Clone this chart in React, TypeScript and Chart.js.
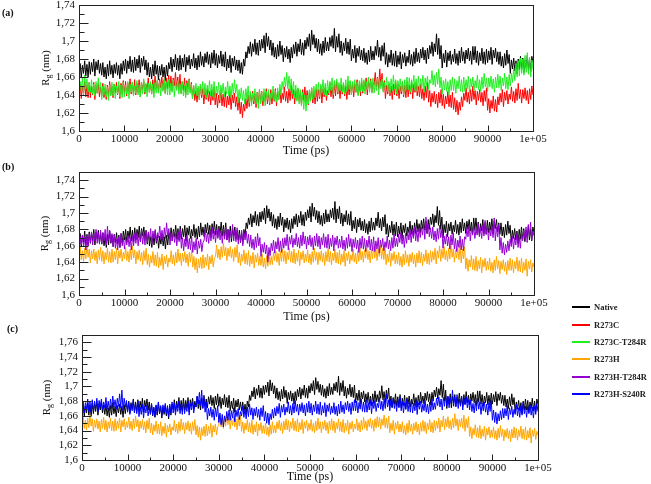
import React, { useEffect, useRef } from 'react';
import { Chart, registerables } from 'chart.js';

Chart.register(...registerables);

// ---------------- DATA ----------------
const SAMPLE_STEP_PS = 250; // one reading every 250 ps, 0 .. 100000 ps (401 readings)
const X_TICK_VALUES = [0, 10000, 20000, 30000, 40000, 50000, 60000, 70000, 80000, 90000, 100000];
const PANEL_LABELS = ['(a)', '(b)', '(c)'];
const SERIES_NAMES = ['Native', 'R273C', 'R273C-T284R', 'R273H', 'R273H-T284R', 'R273H-S240R'];
const SERIES_COLORS = ['#000000', '#ff0000', '#22ee22', '#ffa500', '#9400d3', '#0000ff'];

const NATIVE = [
  1.662, 1.675, 1.659, 1.673, 1.664, 1.678, 1.661, 1.674, 1.660, 1.677,
  1.663, 1.676, 1.666, 1.680, 1.661, 1.677, 1.668, 1.679, 1.664, 1.675,
  1.662, 1.676, 1.660, 1.671, 1.658, 1.674, 1.661, 1.678, 1.663, 1.673,
  1.659, 1.674, 1.664, 1.676, 1.662, 1.673, 1.658, 1.675, 1.663, 1.678,
  1.667, 1.680, 1.664, 1.678, 1.669, 1.683, 1.666, 1.679, 1.665, 1.682,
  1.667, 1.680, 1.670, 1.684, 1.665, 1.681, 1.672, 1.683, 1.668, 1.679,
  1.662, 1.676, 1.660, 1.671, 1.658, 1.674, 1.661, 1.678, 1.663, 1.673,
  1.657, 1.672, 1.662, 1.674, 1.660, 1.671, 1.656, 1.673, 1.661, 1.676,
  1.669, 1.682, 1.666, 1.680, 1.671, 1.685, 1.668, 1.681, 1.667, 1.684,
  1.668, 1.681, 1.671, 1.685, 1.666, 1.682, 1.673, 1.684, 1.669, 1.680,
  1.672, 1.686, 1.670, 1.681, 1.668, 1.684, 1.671, 1.688, 1.673, 1.683,
  1.671, 1.686, 1.676, 1.688, 1.674, 1.685, 1.670, 1.687, 1.675, 1.690,
  1.673, 1.686, 1.670, 1.684, 1.675, 1.689, 1.672, 1.685, 1.671, 1.688,
  1.667, 1.680, 1.670, 1.684, 1.665, 1.681, 1.672, 1.683, 1.668, 1.679,
  1.667, 1.679, 1.664, 1.676, 1.663, 1.680, 1.672, 1.688, 1.681, 1.694,
  1.686, 1.699, 1.683, 1.697, 1.688, 1.702, 1.685, 1.698, 1.684, 1.701,
  1.689, 1.702, 1.692, 1.706, 1.687, 1.709, 1.694, 1.705, 1.690, 1.701,
  1.684, 1.698, 1.682, 1.693, 1.680, 1.696, 1.683, 1.700, 1.685, 1.695,
  1.677, 1.692, 1.682, 1.694, 1.680, 1.691, 1.676, 1.693, 1.681, 1.696,
  1.686, 1.699, 1.683, 1.697, 1.688, 1.702, 1.685, 1.698, 1.684, 1.701,
  1.691, 1.704, 1.694, 1.708, 1.689, 1.712, 1.696, 1.707, 1.692, 1.703,
  1.688, 1.702, 1.686, 1.697, 1.684, 1.700, 1.687, 1.704, 1.689, 1.699,
  1.689, 1.704, 1.694, 1.706, 1.692, 1.714, 1.688, 1.705, 1.693, 1.708,
  1.687, 1.700, 1.684, 1.698, 1.689, 1.703, 1.686, 1.699, 1.685, 1.702,
  1.678, 1.691, 1.681, 1.695, 1.676, 1.692, 1.683, 1.694, 1.679, 1.690,
  1.678, 1.692, 1.676, 1.687, 1.674, 1.690, 1.677, 1.694, 1.679, 1.689,
  1.679, 1.694, 1.684, 1.701, 1.682, 1.693, 1.678, 1.695, 1.683, 1.698,
  1.674, 1.687, 1.671, 1.685, 1.676, 1.690, 1.673, 1.686, 1.672, 1.689,
  1.671, 1.684, 1.674, 1.688, 1.669, 1.685, 1.676, 1.687, 1.672, 1.683,
  1.676, 1.690, 1.674, 1.685, 1.672, 1.688, 1.675, 1.692, 1.677, 1.687,
  1.676, 1.691, 1.681, 1.693, 1.679, 1.690, 1.675, 1.692, 1.680, 1.695,
  1.686, 1.699, 1.683, 1.697, 1.688, 1.708, 1.685, 1.703, 1.680, 1.695,
  1.670, 1.686, 1.676, 1.690, 1.671, 1.687, 1.678, 1.689, 1.674, 1.685,
  1.677, 1.691, 1.675, 1.686, 1.673, 1.689, 1.676, 1.693, 1.678, 1.688,
  1.675, 1.690, 1.680, 1.692, 1.678, 1.689, 1.674, 1.694, 1.679, 1.694,
  1.676, 1.689, 1.673, 1.687, 1.678, 1.692, 1.675, 1.688, 1.674, 1.691,
  1.676, 1.689, 1.679, 1.693, 1.674, 1.690, 1.681, 1.692, 1.677, 1.688,
  1.674, 1.688, 1.672, 1.683, 1.670, 1.686, 1.673, 1.690, 1.675, 1.685,
  1.664, 1.679, 1.669, 1.681, 1.667, 1.678, 1.663, 1.680, 1.668, 1.683,
  1.668, 1.681, 1.665, 1.679, 1.670, 1.684, 1.667, 1.680, 1.666, 1.683,
  1.676,
];

const R273C = [
  1.639, 1.652, 1.636, 1.650, 1.641, 1.655, 1.638, 1.651, 1.637, 1.654,
  1.637, 1.650, 1.640, 1.654, 1.635, 1.651, 1.642, 1.653, 1.638, 1.649,
  1.639, 1.653, 1.637, 1.648, 1.635, 1.651, 1.638, 1.655, 1.640, 1.650,
  1.637, 1.652, 1.642, 1.654, 1.640, 1.651, 1.636, 1.653, 1.641, 1.656,
  1.642, 1.655, 1.639, 1.653, 1.644, 1.658, 1.641, 1.654, 1.640, 1.657,
  1.640, 1.653, 1.643, 1.657, 1.638, 1.654, 1.645, 1.656, 1.641, 1.652,
  1.645, 1.659, 1.643, 1.654, 1.641, 1.657, 1.644, 1.661, 1.646, 1.656,
  1.643, 1.658, 1.648, 1.660, 1.646, 1.657, 1.642, 1.659, 1.647, 1.662,
  1.648, 1.661, 1.645, 1.659, 1.650, 1.665, 1.647, 1.660, 1.646, 1.663,
  1.642, 1.655, 1.645, 1.659, 1.640, 1.656, 1.647, 1.658, 1.643, 1.654,
  1.636, 1.650, 1.634, 1.645, 1.632, 1.648, 1.635, 1.652, 1.637, 1.647,
  1.630, 1.645, 1.635, 1.647, 1.633, 1.644, 1.629, 1.646, 1.634, 1.649,
  1.629, 1.642, 1.626, 1.640, 1.631, 1.645, 1.628, 1.641, 1.627, 1.644,
  1.626, 1.639, 1.629, 1.643, 1.624, 1.640, 1.631, 1.642, 1.627, 1.638,
  1.623, 1.637, 1.619, 1.632, 1.615, 1.630, 1.622, 1.636, 1.625, 1.640,
  1.627, 1.642, 1.632, 1.644, 1.630, 1.641, 1.626, 1.643, 1.631, 1.646,
  1.631, 1.644, 1.628, 1.642, 1.633, 1.647, 1.630, 1.643, 1.629, 1.646,
  1.630, 1.643, 1.633, 1.647, 1.628, 1.644, 1.635, 1.646, 1.631, 1.642,
  1.635, 1.649, 1.633, 1.644, 1.631, 1.647, 1.634, 1.651, 1.636, 1.646,
  1.630, 1.645, 1.635, 1.647, 1.633, 1.644, 1.629, 1.646, 1.634, 1.649,
  1.632, 1.645, 1.629, 1.643, 1.634, 1.648, 1.631, 1.644, 1.630, 1.647,
  1.633, 1.646, 1.636, 1.650, 1.631, 1.647, 1.638, 1.649, 1.634, 1.645,
  1.640, 1.654, 1.638, 1.649, 1.636, 1.652, 1.639, 1.656, 1.641, 1.651,
  1.636, 1.651, 1.641, 1.653, 1.639, 1.650, 1.635, 1.652, 1.640, 1.655,
  1.641, 1.654, 1.638, 1.652, 1.643, 1.657, 1.640, 1.653, 1.639, 1.656,
  1.642, 1.655, 1.645, 1.659, 1.640, 1.656, 1.647, 1.658, 1.643, 1.654,
  1.651, 1.665, 1.649, 1.660, 1.647, 1.669, 1.650, 1.664, 1.645, 1.656,
  1.636, 1.651, 1.641, 1.653, 1.639, 1.650, 1.635, 1.652, 1.640, 1.655,
  1.639, 1.652, 1.636, 1.650, 1.641, 1.655, 1.638, 1.651, 1.637, 1.654,
  1.638, 1.651, 1.641, 1.655, 1.636, 1.652, 1.643, 1.654, 1.639, 1.650,
  1.638, 1.652, 1.636, 1.647, 1.634, 1.650, 1.637, 1.654, 1.632, 1.645,
  1.627, 1.642, 1.632, 1.644, 1.630, 1.641, 1.626, 1.643, 1.631, 1.646,
  1.628, 1.641, 1.625, 1.639, 1.630, 1.644, 1.627, 1.640, 1.626, 1.643,
  1.624, 1.637, 1.621, 1.634, 1.618, 1.632, 1.623, 1.638, 1.627, 1.642,
  1.634, 1.648, 1.632, 1.643, 1.630, 1.646, 1.633, 1.650, 1.635, 1.645,
  1.629, 1.644, 1.634, 1.646, 1.632, 1.643, 1.628, 1.645, 1.633, 1.648,
  1.623, 1.636, 1.620, 1.634, 1.625, 1.639, 1.622, 1.635, 1.621, 1.638,
  1.629, 1.642, 1.632, 1.646, 1.627, 1.643, 1.634, 1.645, 1.630, 1.641,
  1.635, 1.649, 1.633, 1.644, 1.631, 1.647, 1.634, 1.653, 1.636, 1.646,
  1.631, 1.646, 1.636, 1.648, 1.634, 1.645, 1.630, 1.647, 1.635, 1.650,
  1.640,
];

const R273C_T284R = [
  1.642, 1.655, 1.645, 1.659, 1.640, 1.662, 1.647, 1.658, 1.643, 1.654,
  1.643, 1.657, 1.641, 1.652, 1.639, 1.655, 1.642, 1.659, 1.644, 1.654,
  1.635, 1.650, 1.640, 1.652, 1.638, 1.649, 1.634, 1.651, 1.639, 1.654,
  1.639, 1.652, 1.636, 1.650, 1.641, 1.655, 1.638, 1.651, 1.637, 1.654,
  1.638, 1.651, 1.641, 1.655, 1.636, 1.652, 1.643, 1.654, 1.639, 1.650,
  1.642, 1.656, 1.640, 1.651, 1.638, 1.654, 1.641, 1.658, 1.643, 1.653,
  1.638, 1.653, 1.643, 1.655, 1.641, 1.652, 1.637, 1.654, 1.642, 1.657,
  1.642, 1.655, 1.639, 1.653, 1.644, 1.658, 1.641, 1.654, 1.640, 1.657,
  1.640, 1.653, 1.643, 1.657, 1.638, 1.654, 1.645, 1.656, 1.641, 1.652,
  1.641, 1.655, 1.639, 1.650, 1.637, 1.653, 1.640, 1.657, 1.642, 1.652,
  1.636, 1.651, 1.641, 1.653, 1.639, 1.650, 1.635, 1.652, 1.640, 1.655,
  1.640, 1.653, 1.637, 1.651, 1.642, 1.656, 1.639, 1.652, 1.638, 1.655,
  1.637, 1.650, 1.640, 1.654, 1.635, 1.651, 1.642, 1.653, 1.638, 1.649,
  1.641, 1.655, 1.639, 1.650, 1.637, 1.653, 1.640, 1.657, 1.642, 1.652,
  1.631, 1.646, 1.636, 1.648, 1.634, 1.645, 1.630, 1.647, 1.635, 1.650,
  1.631, 1.644, 1.628, 1.642, 1.633, 1.647, 1.630, 1.643, 1.625, 1.646,
  1.630, 1.643, 1.633, 1.647, 1.628, 1.644, 1.635, 1.646, 1.631, 1.642,
  1.636, 1.650, 1.634, 1.645, 1.632, 1.648, 1.635, 1.652, 1.640, 1.655,
  1.646, 1.660, 1.649, 1.665, 1.647, 1.661, 1.645, 1.658, 1.641, 1.655,
  1.637, 1.651, 1.633, 1.648, 1.630, 1.646, 1.628, 1.643, 1.624, 1.640,
  1.622, 1.640, 1.630, 1.646, 1.633, 1.648, 1.635, 1.650, 1.637, 1.652,
  1.641, 1.654, 1.638, 1.652, 1.643, 1.657, 1.640, 1.653, 1.639, 1.656,
  1.642, 1.655, 1.645, 1.659, 1.640, 1.656, 1.647, 1.658, 1.643, 1.654,
  1.645, 1.659, 1.643, 1.654, 1.641, 1.657, 1.644, 1.661, 1.646, 1.656,
  1.640, 1.655, 1.645, 1.657, 1.643, 1.654, 1.639, 1.656, 1.644, 1.659,
  1.644, 1.657, 1.641, 1.655, 1.646, 1.660, 1.643, 1.656, 1.642, 1.659,
  1.642, 1.655, 1.645, 1.659, 1.640, 1.656, 1.647, 1.658, 1.643, 1.654,
  1.646, 1.660, 1.644, 1.655, 1.642, 1.658, 1.645, 1.662, 1.647, 1.657,
  1.641, 1.656, 1.646, 1.658, 1.644, 1.655, 1.640, 1.657, 1.645, 1.660,
  1.646, 1.659, 1.643, 1.657, 1.648, 1.662, 1.645, 1.658, 1.644, 1.661,
  1.645, 1.658, 1.648, 1.662, 1.643, 1.659, 1.650, 1.661, 1.646, 1.657,
  1.653, 1.667, 1.651, 1.662, 1.649, 1.665, 1.652, 1.669, 1.648, 1.660,
  1.641, 1.656, 1.646, 1.658, 1.644, 1.655, 1.640, 1.657, 1.645, 1.660,
  1.645, 1.658, 1.642, 1.656, 1.647, 1.661, 1.644, 1.657, 1.643, 1.660,
  1.644, 1.657, 1.647, 1.661, 1.642, 1.658, 1.649, 1.660, 1.645, 1.656,
  1.648, 1.662, 1.646, 1.657, 1.644, 1.660, 1.647, 1.664, 1.649, 1.659,
  1.644, 1.659, 1.649, 1.661, 1.647, 1.658, 1.643, 1.660, 1.648, 1.663,
  1.648, 1.661, 1.645, 1.659, 1.650, 1.664, 1.647, 1.660, 1.646, 1.663,
  1.650, 1.664, 1.654, 1.670, 1.656, 1.675, 1.660, 1.678, 1.661, 1.681,
  1.664, 1.680, 1.662, 1.684, 1.665, 1.687, 1.663, 1.682, 1.660, 1.679,
  1.668,
];

const R273H = [
  1.645, 1.659, 1.643, 1.654, 1.641, 1.657, 1.644, 1.661, 1.646, 1.656,
  1.639, 1.654, 1.644, 1.656, 1.642, 1.653, 1.638, 1.655, 1.643, 1.658,
  1.641, 1.654, 1.638, 1.652, 1.643, 1.657, 1.640, 1.653, 1.639, 1.656,
  1.640, 1.653, 1.643, 1.657, 1.638, 1.654, 1.645, 1.656, 1.641, 1.652,
  1.644, 1.658, 1.642, 1.653, 1.640, 1.656, 1.643, 1.660, 1.645, 1.655,
  1.638, 1.653, 1.643, 1.655, 1.641, 1.652, 1.637, 1.654, 1.642, 1.657,
  1.637, 1.650, 1.634, 1.648, 1.639, 1.653, 1.636, 1.649, 1.635, 1.652,
  1.633, 1.646, 1.636, 1.650, 1.631, 1.647, 1.638, 1.649, 1.634, 1.645,
  1.640, 1.654, 1.638, 1.649, 1.636, 1.652, 1.639, 1.656, 1.641, 1.651,
  1.636, 1.651, 1.641, 1.653, 1.639, 1.650, 1.635, 1.652, 1.640, 1.655,
  1.634, 1.647, 1.631, 1.645, 1.627, 1.644, 1.633, 1.646, 1.632, 1.649,
  1.633, 1.646, 1.636, 1.650, 1.631, 1.647, 1.638, 1.649, 1.634, 1.645,
  1.647, 1.661, 1.645, 1.656, 1.643, 1.659, 1.646, 1.663, 1.648, 1.658,
  1.642, 1.657, 1.647, 1.659, 1.645, 1.656, 1.641, 1.658, 1.646, 1.661,
  1.639, 1.652, 1.636, 1.650, 1.641, 1.655, 1.638, 1.651, 1.637, 1.654,
  1.635, 1.648, 1.638, 1.652, 1.633, 1.649, 1.640, 1.651, 1.636, 1.647,
  1.636, 1.650, 1.634, 1.645, 1.632, 1.648, 1.635, 1.652, 1.637, 1.647,
  1.637, 1.652, 1.642, 1.654, 1.640, 1.651, 1.636, 1.653, 1.641, 1.656,
  1.641, 1.654, 1.638, 1.652, 1.643, 1.657, 1.640, 1.653, 1.639, 1.656,
  1.638, 1.651, 1.641, 1.655, 1.636, 1.652, 1.643, 1.654, 1.639, 1.650,
  1.641, 1.655, 1.639, 1.650, 1.637, 1.653, 1.640, 1.657, 1.642, 1.652,
  1.637, 1.652, 1.642, 1.654, 1.640, 1.651, 1.636, 1.653, 1.641, 1.656,
  1.640, 1.653, 1.637, 1.651, 1.642, 1.656, 1.639, 1.652, 1.638, 1.655,
  1.637, 1.650, 1.640, 1.654, 1.635, 1.651, 1.642, 1.653, 1.638, 1.649,
  1.642, 1.656, 1.640, 1.651, 1.638, 1.654, 1.641, 1.658, 1.643, 1.653,
  1.640, 1.655, 1.645, 1.657, 1.643, 1.654, 1.639, 1.656, 1.644, 1.659,
  1.645, 1.658, 1.642, 1.656, 1.647, 1.661, 1.644, 1.657, 1.643, 1.660,
  1.637, 1.650, 1.640, 1.654, 1.635, 1.651, 1.642, 1.653, 1.638, 1.649,
  1.638, 1.652, 1.636, 1.647, 1.634, 1.650, 1.637, 1.654, 1.639, 1.649,
  1.635, 1.650, 1.640, 1.652, 1.638, 1.649, 1.634, 1.651, 1.639, 1.654,
  1.639, 1.652, 1.636, 1.650, 1.641, 1.655, 1.638, 1.651, 1.637, 1.654,
  1.640, 1.653, 1.643, 1.657, 1.638, 1.654, 1.645, 1.660, 1.641, 1.656,
  1.645, 1.659, 1.643, 1.654, 1.641, 1.657, 1.644, 1.663, 1.646, 1.656,
  1.640, 1.655, 1.645, 1.657, 1.643, 1.661, 1.639, 1.656, 1.644, 1.659,
  1.632, 1.645, 1.629, 1.643, 1.634, 1.648, 1.631, 1.644, 1.630, 1.647,
  1.629, 1.642, 1.632, 1.646, 1.627, 1.643, 1.634, 1.645, 1.630, 1.641,
  1.631, 1.645, 1.629, 1.640, 1.627, 1.643, 1.630, 1.647, 1.632, 1.642,
  1.626, 1.641, 1.631, 1.643, 1.629, 1.640, 1.625, 1.642, 1.630, 1.645,
  1.630, 1.643, 1.627, 1.641, 1.632, 1.646, 1.629, 1.642, 1.628, 1.645,
  1.627, 1.640, 1.630, 1.644, 1.623, 1.641, 1.632, 1.643, 1.628, 1.639,
  1.634,
];

const R273H_T284R = [
  1.656, 1.671, 1.661, 1.673, 1.659, 1.670, 1.655, 1.672, 1.660, 1.675,
  1.664, 1.677, 1.661, 1.675, 1.666, 1.680, 1.663, 1.676, 1.662, 1.679,
  1.663, 1.676, 1.666, 1.680, 1.661, 1.684, 1.668, 1.679, 1.664, 1.675,
  1.659, 1.673, 1.657, 1.668, 1.655, 1.671, 1.658, 1.675, 1.660, 1.670,
  1.656, 1.671, 1.661, 1.673, 1.659, 1.670, 1.655, 1.672, 1.660, 1.675,
  1.663, 1.676, 1.660, 1.674, 1.665, 1.679, 1.662, 1.675, 1.661, 1.678,
  1.664, 1.677, 1.667, 1.681, 1.662, 1.678, 1.669, 1.680, 1.665, 1.676,
  1.670, 1.684, 1.668, 1.679, 1.666, 1.682, 1.669, 1.688, 1.671, 1.681,
  1.661, 1.676, 1.666, 1.678, 1.664, 1.675, 1.660, 1.677, 1.665, 1.680,
  1.657, 1.670, 1.654, 1.668, 1.659, 1.673, 1.656, 1.669, 1.655, 1.672,
  1.652, 1.665, 1.655, 1.669, 1.650, 1.666, 1.657, 1.668, 1.653, 1.664,
  1.667, 1.681, 1.665, 1.676, 1.663, 1.679, 1.666, 1.683, 1.668, 1.678,
  1.664, 1.679, 1.669, 1.681, 1.667, 1.678, 1.663, 1.680, 1.668, 1.683,
  1.667, 1.680, 1.664, 1.678, 1.669, 1.686, 1.666, 1.679, 1.665, 1.682,
  1.662, 1.675, 1.665, 1.679, 1.660, 1.676, 1.667, 1.678, 1.663, 1.674,
  1.659, 1.673, 1.657, 1.668, 1.655, 1.671, 1.658, 1.675, 1.660, 1.670,
  1.647, 1.662, 1.652, 1.664, 1.650, 1.661, 1.640, 1.658, 1.648, 1.663,
  1.654, 1.667, 1.651, 1.665, 1.656, 1.670, 1.653, 1.666, 1.652, 1.669,
  1.657, 1.670, 1.660, 1.674, 1.655, 1.671, 1.662, 1.673, 1.658, 1.669,
  1.661, 1.675, 1.659, 1.670, 1.657, 1.673, 1.660, 1.677, 1.662, 1.672,
  1.656, 1.671, 1.661, 1.673, 1.659, 1.670, 1.655, 1.672, 1.660, 1.675,
  1.659, 1.672, 1.656, 1.670, 1.661, 1.675, 1.658, 1.671, 1.657, 1.674,
  1.656, 1.669, 1.659, 1.673, 1.654, 1.670, 1.661, 1.672, 1.657, 1.668,
  1.658, 1.672, 1.656, 1.667, 1.654, 1.670, 1.657, 1.674, 1.659, 1.669,
  1.653, 1.668, 1.658, 1.670, 1.656, 1.667, 1.652, 1.669, 1.657, 1.672,
  1.656, 1.669, 1.653, 1.667, 1.658, 1.672, 1.655, 1.668, 1.654, 1.671,
  1.653, 1.666, 1.656, 1.670, 1.651, 1.667, 1.658, 1.669, 1.654, 1.665,
  1.658, 1.672, 1.656, 1.667, 1.654, 1.670, 1.657, 1.674, 1.659, 1.669,
  1.659, 1.674, 1.664, 1.676, 1.662, 1.673, 1.658, 1.675, 1.663, 1.678,
  1.667, 1.680, 1.664, 1.678, 1.669, 1.683, 1.666, 1.679, 1.665, 1.682,
  1.670, 1.683, 1.673, 1.687, 1.668, 1.695, 1.675, 1.686, 1.671, 1.682,
  1.669, 1.683, 1.667, 1.678, 1.665, 1.681, 1.668, 1.685, 1.670, 1.680,
  1.657, 1.672, 1.662, 1.674, 1.660, 1.671, 1.656, 1.673, 1.661, 1.676,
  1.656, 1.669, 1.653, 1.667, 1.658, 1.672, 1.655, 1.668, 1.654, 1.671,
  1.668, 1.681, 1.671, 1.685, 1.666, 1.682, 1.673, 1.684, 1.669, 1.680,
  1.673, 1.687, 1.671, 1.682, 1.669, 1.685, 1.672, 1.691, 1.674, 1.684,
  1.667, 1.682, 1.672, 1.684, 1.670, 1.694, 1.666, 1.683, 1.671, 1.686,
  1.655, 1.670, 1.651, 1.664, 1.649, 1.662, 1.652, 1.666, 1.654, 1.668,
  1.659, 1.672, 1.656, 1.670, 1.661, 1.675, 1.658, 1.671, 1.657, 1.674,
  1.666, 1.679, 1.669, 1.683, 1.664, 1.686, 1.671, 1.689, 1.667, 1.678,
  1.672,
];

const R273H_S240R = [
  1.667, 1.680, 1.664, 1.678, 1.669, 1.683, 1.666, 1.679, 1.665, 1.682,
  1.667, 1.680, 1.670, 1.684, 1.665, 1.681, 1.672, 1.683, 1.668, 1.679,
  1.671, 1.685, 1.669, 1.680, 1.667, 1.683, 1.670, 1.687, 1.672, 1.682,
  1.669, 1.684, 1.673, 1.690, 1.671, 1.695, 1.667, 1.684, 1.672, 1.681,
  1.665, 1.678, 1.662, 1.676, 1.667, 1.681, 1.664, 1.677, 1.663, 1.680,
  1.659, 1.672, 1.662, 1.676, 1.657, 1.673, 1.664, 1.675, 1.660, 1.671,
  1.663, 1.677, 1.661, 1.672, 1.659, 1.675, 1.662, 1.679, 1.664, 1.674,
  1.660, 1.675, 1.665, 1.677, 1.663, 1.674, 1.659, 1.676, 1.664, 1.679,
  1.664, 1.677, 1.661, 1.675, 1.666, 1.680, 1.663, 1.676, 1.662, 1.679,
  1.663, 1.676, 1.666, 1.680, 1.661, 1.677, 1.668, 1.679, 1.664, 1.675,
  1.672, 1.687, 1.676, 1.692, 1.674, 1.695, 1.670, 1.684, 1.665, 1.679,
  1.655, 1.670, 1.660, 1.672, 1.658, 1.669, 1.654, 1.671, 1.659, 1.674,
  1.651, 1.664, 1.648, 1.662, 1.645, 1.660, 1.652, 1.666, 1.654, 1.668,
  1.654, 1.667, 1.657, 1.671, 1.652, 1.668, 1.659, 1.670, 1.655, 1.666,
  1.660, 1.674, 1.658, 1.669, 1.656, 1.672, 1.659, 1.676, 1.661, 1.671,
  1.655, 1.670, 1.660, 1.672, 1.658, 1.669, 1.654, 1.671, 1.659, 1.674,
  1.653, 1.666, 1.650, 1.664, 1.648, 1.663, 1.655, 1.669, 1.657, 1.671,
  1.660, 1.673, 1.663, 1.677, 1.658, 1.674, 1.665, 1.676, 1.661, 1.672,
  1.665, 1.679, 1.663, 1.674, 1.661, 1.677, 1.664, 1.681, 1.666, 1.676,
  1.661, 1.676, 1.666, 1.678, 1.664, 1.675, 1.660, 1.677, 1.665, 1.680,
  1.664, 1.677, 1.661, 1.675, 1.666, 1.680, 1.663, 1.676, 1.662, 1.679,
  1.661, 1.674, 1.664, 1.678, 1.659, 1.675, 1.666, 1.677, 1.662, 1.673,
  1.664, 1.678, 1.662, 1.673, 1.660, 1.676, 1.663, 1.680, 1.665, 1.675,
  1.663, 1.678, 1.668, 1.680, 1.666, 1.677, 1.662, 1.679, 1.667, 1.682,
  1.667, 1.680, 1.664, 1.678, 1.669, 1.683, 1.666, 1.679, 1.665, 1.682,
  1.665, 1.678, 1.668, 1.682, 1.663, 1.679, 1.670, 1.681, 1.666, 1.677,
  1.671, 1.685, 1.669, 1.680, 1.667, 1.683, 1.670, 1.690, 1.672, 1.682,
  1.667, 1.682, 1.672, 1.684, 1.670, 1.681, 1.666, 1.683, 1.671, 1.686,
  1.667, 1.680, 1.664, 1.678, 1.669, 1.683, 1.666, 1.679, 1.665, 1.682,
  1.664, 1.677, 1.667, 1.681, 1.662, 1.678, 1.669, 1.680, 1.665, 1.676,
  1.667, 1.681, 1.665, 1.676, 1.663, 1.679, 1.666, 1.683, 1.668, 1.678,
  1.669, 1.684, 1.674, 1.686, 1.672, 1.683, 1.668, 1.685, 1.673, 1.688,
  1.674, 1.687, 1.671, 1.685, 1.676, 1.695, 1.673, 1.686, 1.672, 1.689,
  1.670, 1.683, 1.673, 1.687, 1.668, 1.684, 1.675, 1.686, 1.671, 1.682,
  1.668, 1.682, 1.666, 1.677, 1.664, 1.680, 1.667, 1.684, 1.669, 1.679,
  1.662, 1.677, 1.667, 1.679, 1.665, 1.676, 1.661, 1.678, 1.666, 1.681,
  1.654, 1.668, 1.651, 1.665, 1.649, 1.663, 1.653, 1.667, 1.655, 1.670,
  1.657, 1.670, 1.660, 1.674, 1.655, 1.671, 1.662, 1.673, 1.658, 1.669,
  1.662, 1.676, 1.660, 1.671, 1.658, 1.674, 1.661, 1.678, 1.663, 1.673,
  1.658, 1.673, 1.663, 1.675, 1.661, 1.672, 1.657, 1.674, 1.662, 1.677,
  1.666,
];

const SERIES_VALUES: Record<string, number[]> = {
  'Native': NATIVE,
  'R273C': R273C,
  'R273C-T284R': R273C_T284R,
  'R273H': R273H,
  'R273H-T284R': R273H_T284R,
  'R273H-S240R': R273H_S240R,
};

// series shown in each panel
const PANEL_A_SERIES = ['Native', 'R273C', 'R273C-T284R'];
const PANEL_B_SERIES = ['Native', 'R273H', 'R273H-T284R'];
const PANEL_C_SERIES = ['Native', 'R273H', 'R273H-S240R'];
const PANEL_Y_MAX = [1.74, 1.75, 1.77];
const Y_MIN = 1.6;
const Y_STEP = 0.02;
const X_MIN = 0;
const X_MAX = 100000;

// ---------------- LAYOUT ----------------
const W = 651;
const SERIF = '"Liberation Serif", "Times New Roman", serif';

type PanelCfg = {
  label: string;
  series: string[];
  yMax: number;
  top: number;
  height: number;
  plotLeft: number;
  plotRight: number;
  plotTop: number;
  plotBottom: number;
  yTitleX: number;
  xTitleY: number;
  labelX: number;
  labelY: number;
};

const PANELS: PanelCfg[] = [
  { label: PANEL_LABELS[0], series: PANEL_A_SERIES, yMax: PANEL_Y_MAX[0], top: -10, height: 170,
    plotLeft: 79, plotRight: 533, plotTop: 5, plotBottom: 131, yTitleX: 46, xTitleY: 151, labelX: 2, labelY: 13 },
  { label: PANEL_LABELS[1], series: PANEL_B_SERIES, yMax: PANEL_Y_MAX[1], top: 160, height: 162,
    plotLeft: 79, plotRight: 534, plotTop: 172, plotBottom: 295, yTitleX: 45, xTitleY: 317, labelX: 2, labelY: 167 },
  { label: PANEL_LABELS[2], series: PANEL_C_SERIES, yMax: PANEL_Y_MAX[2], top: 322, height: 162,
    plotLeft: 82, plotRight: 538, plotTop: 335, plotBottom: 460, yTitleX: 47, xTitleY: 477, labelX: 7, labelY: 329 },
];

const colorOf = (name: string) => SERIES_COLORS[SERIES_NAMES.indexOf(name)];
const toPoints = (vals: number[]) => vals.map((v, i) => ({ x: i * SAMPLE_STEP_PS, y: v }));
const fmtY = (v: number) => String(Number(v.toFixed(2))).replace('.', ',');
const fmtX = (v: number) => (v >= 100000 ? '1e+05' : String(v));

function decorPlugin(p: PanelCfg) {
  return {
    id: 'decor',
    afterDraw(chart: any) {
      const { ctx, chartArea: ca, scales } = chart;
      const xs = scales.x;
      const ys = scales.y;
      ctx.save();
      ctx.strokeStyle = '#222';
      ctx.lineWidth = 1;
      const L = Math.round(ca.left) + 0.5;
      const R = Math.round(ca.right) + 0.5;
      const T = Math.round(ca.top) + 0.5;
      const B = Math.round(ca.bottom) + 0.5;
      ctx.strokeRect(L, T, R - L, B - T);
      const seg = (x1: number, y1: number, x2: number, y2: number) => {
        ctx.beginPath();
        ctx.moveTo(x1, y1);
        ctx.lineTo(x2, y2);
        ctx.stroke();
      };
      // inward y ticks (major + minor)
      ys.ticks.forEach((t: any) => {
        const y = Math.round(ys.getPixelForValue(t.value)) + 0.5;
        seg(L, y, L + 9, y);
        const mv = t.value + Y_STEP / 2;
        if (mv < p.yMax - 1e-9) {
          const my = Math.round(ys.getPixelForValue(mv)) + 0.5;
          seg(L, my, L + 5, my);
        }
      });
      // inward x ticks (major + minor)
      xs.ticks.forEach((t: any) => {
        const x = Math.round(xs.getPixelForValue(t.value)) + 0.5;
        seg(x, B, x, B - 6);
        const mv = t.value + 5000;
        if (mv < X_MAX) {
          const mx = Math.round(xs.getPixelForValue(mv)) + 0.5;
          seg(mx, B, mx, B - 3);
        }
      });
      // x title
      ctx.fillStyle = '#111';
      ctx.textAlign = 'center';
      ctx.textBaseline = 'middle';
      ctx.font = `12px ${SERIF}`;
      ctx.fillText('Time (ps)', (ca.left + ca.right) / 2, p.xTitleY - p.top);
      // panel label
      ctx.textAlign = 'left';
      ctx.font = `bold 10px ${SERIF}`;
      ctx.fillText(p.label, p.labelX, p.labelY - p.top);
      // y title: R_g (nm)
      ctx.save();
      ctx.translate(p.yTitleX, (ca.top + ca.bottom) / 2);
      ctx.rotate(-Math.PI / 2);
      ctx.textBaseline = 'middle';
      ctx.font = `11px ${SERIF}`;
      const wR = ctx.measureText('R').width;
      const wRest = ctx.measureText(' (nm)').width;
      ctx.font = `8px ${SERIF}`;
      const wg = ctx.measureText('g').width;
      const x0 = -(wR + wg + wRest) / 2;
      ctx.font = `11px ${SERIF}`;
      ctx.fillText('R', x0, 0);
      ctx.font = `8px ${SERIF}`;
      ctx.fillText('g', x0 + wR, 2.5);
      ctx.font = `11px ${SERIF}`;
      ctx.fillText(' (nm)', x0 + wR + wg, 0);
      ctx.restore();
      ctx.restore();
    },
  };
}

function PanelChart({ p }: { p: PanelCfg }) {
  const ref = useRef<HTMLCanvasElement>(null);
  useEffect(() => {
    const canvas = ref.current;
    if (!canvas) return;
    const n = p.series.length;
    const chart = new Chart(canvas, {
      type: 'line',
      data: {
        datasets: p.series.map((name, i) => ({
          label: name,
          data: toPoints(SERIES_VALUES[name]),
          borderColor: colorOf(name),
          backgroundColor: colorOf(name),
          borderWidth: 1,
          pointRadius: 0,
          tension: 0,
          fill: false,
          order: n - i,
        })),
      },
      options: {
        animation: false,
        responsive: false,
        devicePixelRatio: 1,
        events: [],
        layout: {
          padding: { left: 0, top: p.plotTop - p.top, right: W - p.plotRight, bottom: 0 },
        },
        plugins: { legend: { display: false }, tooltip: { enabled: false } },
        scales: {
          x: {
            type: 'linear',
            min: X_MIN,
            max: X_MAX,
            afterFit: (s: any) => { s.height = p.top + p.height - p.plotBottom; },
            afterBuildTicks: (s: any) => { s.ticks = X_TICK_VALUES.map((v) => ({ value: v })); },
            grid: { display: false, drawTicks: false },
            border: { display: false },
            ticks: {
              autoSkip: false,
              maxRotation: 0,
              padding: 2,
              color: '#111',
              font: { family: SERIF, size: 11 },
              callback: (v: any) => fmtX(Number(v)),
            },
          },
          y: {
            type: 'linear',
            min: Y_MIN,
            max: p.yMax,
            afterFit: (s: any) => { s.width = p.plotLeft; },
            grid: { display: false, drawTicks: false },
            border: { display: false },
            ticks: {
              stepSize: Y_STEP,
              includeBounds: false,
              autoSkip: false,
              padding: 4,
              color: '#111',
              font: { family: SERIF, size: 11 },
              callback: (v: any) => fmtY(Number(v)),
            },
          },
        },
      } as any,
      plugins: [decorPlugin(p)],
    });
    return () => chart.destroy();
  }, [p]);
  return (
    <canvas
      ref={ref}
      width={W}
      height={p.height}
      style={{ position: 'absolute', left: 0, top: p.top, width: W, height: p.height }}
    />
  );
}

function Legend() {
  return (
    <div
      style={{
        position: 'absolute',
        left: 572,
        top: 298.5,
        font: `bold 8.5px ${SERIF}`,
        color: '#222',
        zIndex: 2,
      }}
    >
      {SERIES_NAMES.map((name, i) => (
        <div key={name} style={{ display: 'flex', alignItems: 'center', height: 17.4, whiteSpace: 'nowrap' }}>
          <span
            style={{ display: 'inline-block', width: 18, height: 2, background: SERIES_COLORS[i], marginRight: 4 }}
          />
          <span>{name}</span>
        </div>
      ))}
    </div>
  );
}

export default function App() {
  return (
    <div
      style={{
        position: 'absolute',
        left: 0,
        top: 0,
        width: W,
        height: 484,
        background: '#fff',
        overflow: 'hidden',
      }}
    >
      {PANELS.map((p) => (
        <PanelChart key={p.label} p={p} />
      ))}
      <Legend />
    </div>
  );
}
